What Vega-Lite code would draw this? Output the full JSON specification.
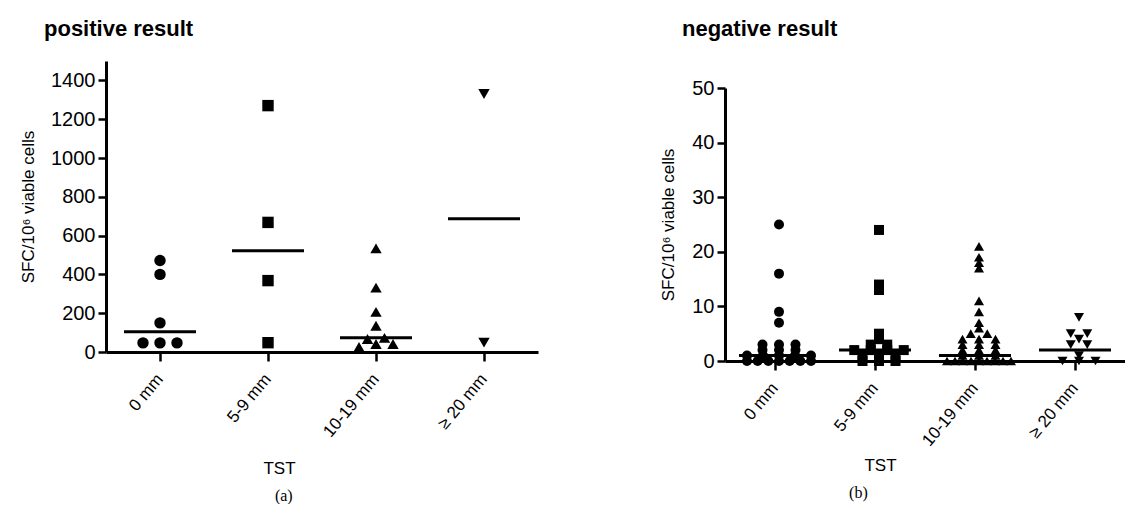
{
  "$schema": "https://vega.github.io/schema/vega-lite/v6.json",
  "background": "white",
  "padding": {"left": 19, "top": 18, "right": 0, "bottom": 0},
  "spacing": 121,
  "config": {
    "font": "Liberation Sans",
    "view": {"stroke": null},
    "axis": {
      "grid": false,
      "domainColor": "black",
      "domainWidth": 3,
      "tickColor": "black",
      "tickWidth": 2.5,
      "labelColor": "black",
      "titleColor": "black",
      "titleFontWeight": "normal",
      "titleFont": "Liberation Sans",
      "labelFont": "Liberation Sans"
    }
  },
  "datasets": {
    "points": [
      {"panel": "positive", "TST": "0 mm", "SFC": 472},
      {"panel": "positive", "TST": "0 mm", "SFC": 400},
      {"panel": "positive", "TST": "0 mm", "SFC": 150},
      {"panel": "positive", "TST": "0 mm", "SFC": 47},
      {"panel": "positive", "TST": "0 mm", "SFC": 47},
      {"panel": "positive", "TST": "0 mm", "SFC": 47},
      {"panel": "positive", "TST": "5-9 mm", "SFC": 1270},
      {"panel": "positive", "TST": "5-9 mm", "SFC": 668},
      {"panel": "positive", "TST": "5-9 mm", "SFC": 368},
      {"panel": "positive", "TST": "5-9 mm", "SFC": 48},
      {"panel": "positive", "TST": "10-19 mm", "SFC": 534},
      {"panel": "positive", "TST": "10-19 mm", "SFC": 332},
      {"panel": "positive", "TST": "10-19 mm", "SFC": 207},
      {"panel": "positive", "TST": "10-19 mm", "SFC": 135},
      {"panel": "positive", "TST": "10-19 mm", "SFC": 73},
      {"panel": "positive", "TST": "10-19 mm", "SFC": 67},
      {"panel": "positive", "TST": "10-19 mm", "SFC": 41},
      {"panel": "positive", "TST": "10-19 mm", "SFC": 41},
      {"panel": "positive", "TST": "10-19 mm", "SFC": 26},
      {"panel": "positive", "TST": "≥ 20 mm", "SFC": 1330},
      {"panel": "positive", "TST": "≥ 20 mm", "SFC": 48},

      {"panel": "negative", "TST": "0 mm", "SFC": 25},
      {"panel": "negative", "TST": "0 mm", "SFC": 16},
      {"panel": "negative", "TST": "0 mm", "SFC": 9},
      {"panel": "negative", "TST": "0 mm", "SFC": 7},
      {"panel": "negative", "TST": "0 mm", "SFC": 3},
      {"panel": "negative", "TST": "0 mm", "SFC": 3},
      {"panel": "negative", "TST": "0 mm", "SFC": 3},
      {"panel": "negative", "TST": "0 mm", "SFC": 2},
      {"panel": "negative", "TST": "0 mm", "SFC": 2},
      {"panel": "negative", "TST": "0 mm", "SFC": 2},
      {"panel": "negative", "TST": "0 mm", "SFC": 1},
      {"panel": "negative", "TST": "0 mm", "SFC": 1},
      {"panel": "negative", "TST": "0 mm", "SFC": 1},
      {"panel": "negative", "TST": "0 mm", "SFC": 1},
      {"panel": "negative", "TST": "0 mm", "SFC": 1},
      {"panel": "negative", "TST": "0 mm", "SFC": 0},
      {"panel": "negative", "TST": "0 mm", "SFC": 0},
      {"panel": "negative", "TST": "0 mm", "SFC": 0},
      {"panel": "negative", "TST": "0 mm", "SFC": 0},
      {"panel": "negative", "TST": "0 mm", "SFC": 0},
      {"panel": "negative", "TST": "0 mm", "SFC": 0},
      {"panel": "negative", "TST": "0 mm", "SFC": 0},
      {"panel": "negative", "TST": "5-9 mm", "SFC": 24},
      {"panel": "negative", "TST": "5-9 mm", "SFC": 14},
      {"panel": "negative", "TST": "5-9 mm", "SFC": 13},
      {"panel": "negative", "TST": "5-9 mm", "SFC": 5},
      {"panel": "negative", "TST": "5-9 mm", "SFC": 4},
      {"panel": "negative", "TST": "5-9 mm", "SFC": 3},
      {"panel": "negative", "TST": "5-9 mm", "SFC": 3},
      {"panel": "negative", "TST": "5-9 mm", "SFC": 2},
      {"panel": "negative", "TST": "5-9 mm", "SFC": 2},
      {"panel": "negative", "TST": "5-9 mm", "SFC": 2},
      {"panel": "negative", "TST": "5-9 mm", "SFC": 2},
      {"panel": "negative", "TST": "5-9 mm", "SFC": 1},
      {"panel": "negative", "TST": "5-9 mm", "SFC": 1},
      {"panel": "negative", "TST": "5-9 mm", "SFC": 1},
      {"panel": "negative", "TST": "5-9 mm", "SFC": 0},
      {"panel": "negative", "TST": "5-9 mm", "SFC": 0},
      {"panel": "negative", "TST": "5-9 mm", "SFC": 0},
      {"panel": "negative", "TST": "10-19 mm", "SFC": 21},
      {"panel": "negative", "TST": "10-19 mm", "SFC": 19},
      {"panel": "negative", "TST": "10-19 mm", "SFC": 18},
      {"panel": "negative", "TST": "10-19 mm", "SFC": 17},
      {"panel": "negative", "TST": "10-19 mm", "SFC": 11},
      {"panel": "negative", "TST": "10-19 mm", "SFC": 9},
      {"panel": "negative", "TST": "10-19 mm", "SFC": 7},
      {"panel": "negative", "TST": "10-19 mm", "SFC": 6},
      {"panel": "negative", "TST": "10-19 mm", "SFC": 5},
      {"panel": "negative", "TST": "10-19 mm", "SFC": 5},
      {"panel": "negative", "TST": "10-19 mm", "SFC": 4},
      {"panel": "negative", "TST": "10-19 mm", "SFC": 4},
      {"panel": "negative", "TST": "10-19 mm", "SFC": 4},
      {"panel": "negative", "TST": "10-19 mm", "SFC": 3},
      {"panel": "negative", "TST": "10-19 mm", "SFC": 3},
      {"panel": "negative", "TST": "10-19 mm", "SFC": 3},
      {"panel": "negative", "TST": "10-19 mm", "SFC": 2},
      {"panel": "negative", "TST": "10-19 mm", "SFC": 2},
      {"panel": "negative", "TST": "10-19 mm", "SFC": 2},
      {"panel": "negative", "TST": "10-19 mm", "SFC": 1},
      {"panel": "negative", "TST": "10-19 mm", "SFC": 1},
      {"panel": "negative", "TST": "10-19 mm", "SFC": 1},
      {"panel": "negative", "TST": "10-19 mm", "SFC": 0},
      {"panel": "negative", "TST": "10-19 mm", "SFC": 0},
      {"panel": "negative", "TST": "10-19 mm", "SFC": 0},
      {"panel": "negative", "TST": "10-19 mm", "SFC": 0},
      {"panel": "negative", "TST": "10-19 mm", "SFC": 0},
      {"panel": "negative", "TST": "10-19 mm", "SFC": 0},
      {"panel": "negative", "TST": "10-19 mm", "SFC": 0},
      {"panel": "negative", "TST": "10-19 mm", "SFC": 0},
      {"panel": "negative", "TST": "10-19 mm", "SFC": 0},
      {"panel": "negative", "TST": "≥ 20 mm", "SFC": 8},
      {"panel": "negative", "TST": "≥ 20 mm", "SFC": 5},
      {"panel": "negative", "TST": "≥ 20 mm", "SFC": 5},
      {"panel": "negative", "TST": "≥ 20 mm", "SFC": 4},
      {"panel": "negative", "TST": "≥ 20 mm", "SFC": 3},
      {"panel": "negative", "TST": "≥ 20 mm", "SFC": 3},
      {"panel": "negative", "TST": "≥ 20 mm", "SFC": 1},
      {"panel": "negative", "TST": "≥ 20 mm", "SFC": 0},
      {"panel": "negative", "TST": "≥ 20 mm", "SFC": 0},
      {"panel": "negative", "TST": "≥ 20 mm", "SFC": 0}
    ],
    "medians": [
      {"panel": "positive", "TST": "0 mm", "median": 104},
      {"panel": "positive", "TST": "5-9 mm", "median": 522},
      {"panel": "positive", "TST": "10-19 mm", "median": 73},
      {"panel": "positive", "TST": "≥ 20 mm", "median": 687},
      {"panel": "negative", "TST": "0 mm", "median": 1},
      {"panel": "negative", "TST": "5-9 mm", "median": 2},
      {"panel": "negative", "TST": "10-19 mm", "median": 1},
      {"panel": "negative", "TST": "≥ 20 mm", "median": 2}
    ]
  },
  "hconcat": [
    {
      "title": {"text": "(a)", "orient": "bottom", "anchor": "middle", "font": "Liberation Serif", "fontSize": 16, "fontWeight": "normal", "offset": 12, "dx": 5},
      "vconcat": [
        {
          "width": 432,
          "height": 291,
          "title": {"text": "positive result", "anchor": "start", "frame": "group", "dx": -62, "fontSize": 22, "fontWeight": "bold", "offset": 20},
          "layer": [
            {
              "data": {"name": "points"},
              "transform": [
                {"filter": "datum.panel == 'positive'"},
                {"calculate": "floor(datum.SFC / 60)", "as": "bin"},
                {"window": [{"op": "row_number", "as": "r"}, {"op": "count", "as": "k"}], "groupby": ["TST", "bin"], "sort": [{"field": "SFC", "order": "ascending"}], "frame": [null, null]},
                {"calculate": "(datum.r - (datum.k + 1) / 2) * min(17, 64 / max(1, datum.k - 1))", "as": "dx"}
              ],
              "mark": {"type": "point", "filled": true, "opacity": 1, "color": "black", "size": 130},
              "encoding": {
                "x": {
                  "field": "TST", "type": "nominal",
                  "sort": ["0 mm", "5-9 mm", "10-19 mm", "≥ 20 mm"],
                  "scale": {"domain": ["0 mm", "5-9 mm", "10-19 mm", "≥ 20 mm"], "paddingInner": 0, "paddingOuter": 0},
                  "axis": {"title": "TST", "titleX": 173, "titleY": 116, "titleBaseline": "middle", "titleFontSize": 17, "labelAngle": -50, "labelAlign": "right", "labelBaseline": "middle", "labelFontSize": 17, "labelPadding": 15, "tickSize": 9}
                },
                "xOffset": {"field": "dx", "type": "quantitative", "scale": {"domain": [-54, 54], "nice": false, "zero": false}},
                "y": {
                  "field": "SFC", "type": "quantitative",
                  "scale": {"domain": [0, 1500], "nice": false},
                  "axis": {"values": [0, 200, 400, 600, 800, 1000, 1200, 1400], "format": "d", "title": "SFC/10⁶ viable cells", "titleFontSize": 17, "titlePadding": 13, "labelFontSize": 20, "labelPadding": 3, "tickSize": 8}
                },
                "shape": {"field": "TST", "type": "nominal", "scale": {"domain": ["0 mm", "5-9 mm", "10-19 mm", "≥ 20 mm"], "range": ["circle", "square", "triangle-up", "triangle-down"]}, "legend": null}
              }
            },
            {
              "data": {"name": "medians"},
              "transform": [{"filter": "datum.panel == 'positive'"}],
              "mark": {"type": "tick", "color": "black", "size": 72, "thickness": 3, "opacity": 1},
              "encoding": {
                "x": {"field": "TST", "type": "nominal", "sort": ["0 mm", "5-9 mm", "10-19 mm", "≥ 20 mm"]},
                "y": {"field": "median", "type": "quantitative"}
              }
            }
          ]
        }
      ]
    },
    {
      "title": {"text": "(b)", "orient": "bottom", "anchor": "middle", "font": "Liberation Serif", "fontSize": 16, "fontWeight": "normal", "offset": 12, "dx": -34},
      "vconcat": [
        {
          "width": 400,
          "height": 300,
          "title": {"text": "negative result", "anchor": "start", "frame": "group", "dx": -43, "fontSize": 22, "fontWeight": "bold", "offset": 20},
          "layer": [
            {
              "data": {"name": "points"},
              "transform": [
                {"filter": "datum.panel == 'negative'"},
                {"calculate": "floor(datum.SFC)", "as": "bin"},
                {"window": [{"op": "row_number", "as": "r"}, {"op": "count", "as": "k"}], "groupby": ["TST", "bin"], "sort": [{"field": "SFC", "order": "ascending"}], "frame": [null, null]},
                {"calculate": "(datum.r - (datum.k + 1) / 2) * min(16.5, 64 / max(1, datum.k - 1))", "as": "dx"}
              ],
              "mark": {"type": "point", "filled": true, "opacity": 1, "color": "black", "size": 100},
              "encoding": {
                "x": {
                  "field": "TST", "type": "nominal",
                  "sort": ["0 mm", "5-9 mm", "10-19 mm", "≥ 20 mm"],
                  "scale": {"domain": ["0 mm", "5-9 mm", "10-19 mm", "≥ 20 mm"], "paddingInner": 0, "paddingOuter": 0},
                  "axis": {"title": "TST", "titleX": 155, "titleY": 104, "titleBaseline": "middle", "titleFontSize": 17, "labelAngle": -50, "labelAlign": "right", "labelBaseline": "middle", "labelFontSize": 17, "labelPadding": 15, "tickSize": 9}
                },
                "xOffset": {"field": "dx", "type": "quantitative", "scale": {"domain": [-50, 50], "nice": false, "zero": false}},
                "y": {
                  "field": "SFC", "type": "quantitative",
                  "scale": {"domain": [0, 50], "nice": false, "range": [300, 27]},
                  "axis": {"values": [0, 10, 20, 30, 40, 50], "format": "d", "title": "SFC/10⁶ viable cells", "titleFontSize": 17, "titlePadding": 14, "labelFontSize": 20, "labelPadding": 3, "tickSize": 8}
                },
                "shape": {"field": "TST", "type": "nominal", "scale": {"domain": ["0 mm", "5-9 mm", "10-19 mm", "≥ 20 mm"], "range": ["circle", "square", "triangle-up", "triangle-down"]}, "legend": null}
              }
            },
            {
              "data": {"name": "medians"},
              "transform": [{"filter": "datum.panel == 'negative'"}],
              "mark": {"type": "tick", "color": "black", "size": 72, "thickness": 3, "opacity": 1},
              "encoding": {
                "x": {"field": "TST", "type": "nominal", "sort": ["0 mm", "5-9 mm", "10-19 mm", "≥ 20 mm"]},
                "y": {"field": "median", "type": "quantitative"}
              }
            }
          ]
        }
      ]
    }
  ]
}
